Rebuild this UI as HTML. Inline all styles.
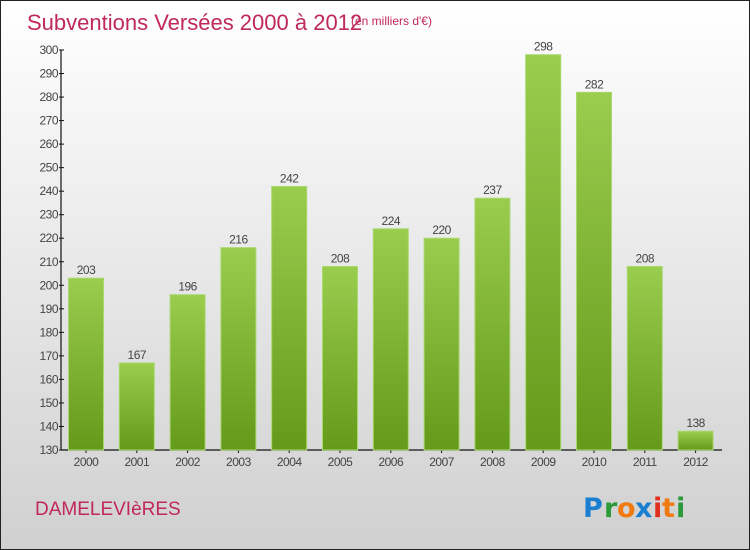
<!DOCTYPE html>
<html><head><meta charset="utf-8"><style>
body{margin:0}
#c{position:relative;width:748px;height:548px;border:1px solid #222;background:linear-gradient(#ffffff,#d0d0d0);font-family:"Liberation Sans",sans-serif;overflow:hidden}
</style></head><body>
<div id="c">
<svg width="748" height="548" style="position:absolute;left:0;top:0" id="svg">
<defs><linearGradient id="g" x1="0" y1="0" x2="0" y2="1"><stop offset="0" stop-color="#9acd4e"/><stop offset="1" stop-color="#64991a"/></linearGradient></defs>
<text x="26" y="29" font-size="22" fill="#c0285a">Subventions Versées 2000 à 2012</text>
<text x="350" y="24" font-size="12" fill="#c0285a">(en milliers d'€)</text>
<text x="34" y="514" font-size="19" fill="#c0285a">DAMELEVIèRES</text>
<g font-size="27" font-weight="bold" font-family="'DejaVu Sans',sans-serif">
<text x="582" y="516" fill="#1a7fd0">P</text><text x="603" y="516" fill="#2a9a3a">r</text><text x="616" y="516" fill="#f07a10">o</text><text x="634" y="516" fill="#1a7fd0">x</text><text x="652" y="516" fill="#e03020">i</text><text x="661" y="516" fill="#f07a10">t</text><text x="675" y="516" fill="#2a9a3a">i</text>
</g>
<g id="axes"></g><g id="bars"></g>
</svg>
</div>
<script>
const categories=["2000","2001","2002","2003","2004","2005","2006","2007","2008","2009","2010","2011","2012"];
const values=[203,167,196,216,242,208,224,220,237,298,282,208,138];
const yTicks=[130,140,150,160,170,180,190,200,210,220,230,240,250,260,270,280,290,300];
const NS="http://www.w3.org/2000/svg";
const y0=449,y1=49,vmin=130,vmax=300,x0=60,step=50.8,firstC=85;
function yS(v){return y0-(v-vmin)/(vmax-vmin)*(y0-y1);}
function xS(i){return firstC+i*step;}
function mk(t,a,p){const e=document.createElementNS(NS,t);for(const k in a)e.setAttribute(k,a[k]);p.appendChild(e);return e;}
const ax=document.getElementById('axes'),bs=document.getElementById('bars');
const yl=mk('line',{x1:x0,x2:x0,y1:y1,y2:y0,stroke:'#111','stroke-width':1.2},ax);


const xl=mk('line',{x1:x0,x2:721,y1:y0,y2:y0,stroke:'#111','stroke-width':1.2},ax);


yTicks.forEach(v=>{
 const y=yS(v);
 mk('line',{x1:x0-2,x2:x0+3,y1:y,y2:y,stroke:'#111'},ax);
 const t=mk('text',{x:x0-3,y:y+4,'text-anchor':'end','font-size':12,fill:'#444','letter-spacing':'-0.5'},ax);
 t.textContent=v;
 
 
});
categories.forEach((c,i)=>{
 const cx=xS(i),w=35,y=yS(values[i]);
 const r=mk('rect',{x:cx-w/2,y:y,width:w,height:y0-y,fill:'url(#g)',stroke:'#a8d870','stroke-width':1},bs);
 
 
 const l=mk('text',{x:cx,y:y-4,'text-anchor':'middle','font-size':12,fill:'#444','letter-spacing':'-0.5'},bs);
 l.textContent=values[i];
 
 
 mk('line',{x1:cx,x2:cx,y1:y0,y2:y0+3,stroke:'#111'},ax);
 const xt=mk('text',{x:cx,y:y0+16,'text-anchor':'middle','font-size':12,fill:'#444','letter-spacing':'-0.5'},ax);
 xt.textContent=c;
 
 
});
</script>
</body></html>
